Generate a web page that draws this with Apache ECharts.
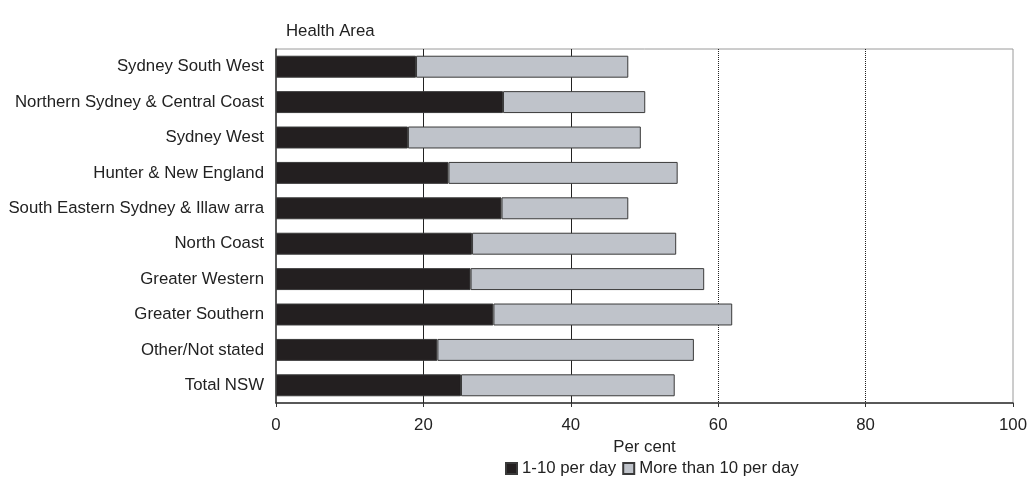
<!DOCTYPE html>
<html><head><meta charset="utf-8">
<script src="https://cdn.jsdelivr.net/npm/echarts@6/dist/echarts.min.js"></script>
<style>html,body{margin:0;padding:0;background:#fff}#c{width:1030px;height:478px}</style>
</head><body><div id="c"></div>
<script>
const categories = ["Sydney South West","Northern Sydney & Central Coast","Sydney West","Hunter & New England","South Eastern Sydney & Illaw arra","North Coast","Greater Western","Greater Southern","Other/Not stated","Total NSW"];
const light = [19.0, 30.8, 17.9, 23.4, 30.6, 26.6, 26.4, 29.5, 21.9, 25.1];
const heavy = [28.8, 19.3, 31.6, 31.1, 17.2, 27.7, 31.7, 32.4, 34.8, 29.0];
const xTicks = [0, 20, 40, 60, 80, 100];
const seriesNames = ["1-10 per day", "More than 10 per day"];

const font = "Liberation Sans, Arial, sans-serif";
const fs = 16.8;
const chart = echarts.init(document.getElementById('c'), null, {renderer: 'canvas'});
chart.setOption({
  animation: false,
  textStyle: {fontFamily: font},
  grid: {left: 276, right: 15, top: 49, bottom: 75, show: true, borderColor: '#9a9a9a', borderWidth: 1, backgroundColor: 'transparent'},
  title: {text: 'Health Area', left: 281, top: 18, textStyle: {fontSize: fs, fontWeight: 'normal', color: '#222', fontFamily: font}},
  legend: {
    top: 455, left: 500, itemWidth: 11, itemHeight: 11, itemGap: 6,
    textStyle: {fontSize: fs, color: '#222', fontFamily: font},
    data: seriesNames.map(n => ({name: n, icon: 'rect'}))
  },
  xAxis: {
    type: 'value', min: 0, max: 100, interval: 20,
    name: 'Per cent', nameLocation: 'middle', nameGap: 34,
    nameTextStyle: {fontSize: fs, color: '#222'},
    axisLine: {show: true, lineStyle: {color: '#333', width: 1.5}},
    axisTick: {show: true, length: 4, lineStyle: {color: '#333'}},
    axisLabel: {fontSize: fs, color: '#222', margin: 14, formatter: v => xTicks.includes(v) ? String(v) : ''},
    splitLine: {show: false}
  },
  yAxis: {
    type: 'category', data: categories, inverse: true,
    axisLine: {show: true, lineStyle: {color: '#333', width: 1.5}},
    axisTick: {show: false},
    axisLabel: {fontSize: fs, color: '#222', margin: 12}
  },
  series: [
    {
      name: seriesNames[0], type: 'bar', stack: 's', data: light, barCategoryGap: '38%',
      itemStyle: {color: '#231f20', borderColor: '#3a3a3a', borderWidth: 1},
      markLine: {
        silent: true, symbol: 'none', label: {show: false},
        data: [
          {xAxis: 20, lineStyle: {color: '#222', type: 'solid', width: 1}},
          {xAxis: 40, lineStyle: {color: '#222', type: 'solid', width: 1}},
          {xAxis: 60, lineStyle: {color: '#222', type: [1, 1], width: 1}},
          {xAxis: 80, lineStyle: {color: '#222', type: [1, 1], width: 1}}
        ],
        z: 1
      },
      z: 3
    },
    {
      name: seriesNames[1], type: 'bar', stack: 's', data: heavy,
      itemStyle: {color: '#bfc3ca', borderColor: '#3a3a3a', borderWidth: 1},
      z: 3
    }
  ]
});
</script>
</body></html>
